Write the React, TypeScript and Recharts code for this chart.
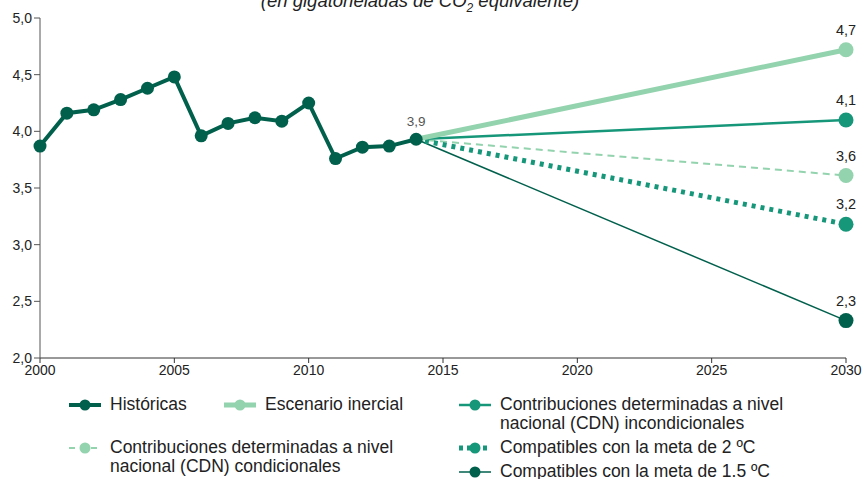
import { LineChart, Line, XAxis, YAxis } from 'recharts';

const histYears = [2000, 2001, 2002, 2003, 2004, 2005, 2006, 2007, 2008, 2009, 2010, 2011, 2012, 2013, 2014];
const histValues = [3.87, 4.16, 4.19, 4.28, 4.38, 4.48, 3.96, 4.07, 4.12, 4.09, 4.25, 3.76, 3.86, 3.87, 3.93];

const projYears = [2014, 2030];
const inercial = [3.93, 4.72];
const cdnIncond = [3.93, 4.1];
const cdnCond = [3.93, 3.61];
const meta2 = [3.93, 3.18];
const meta15 = [3.93, 2.33];

const xTicks = [2000, 2005, 2010, 2015, 2020, 2025, 2030];
const yTicks = [2.0, 2.5, 3.0, 3.5, 4.0, 4.5, 5.0];

const DARK = '#00604c';
const LIGHT = '#93d3ae';
const MID = '#17977a';

const data: Record<string, number>[] = histYears.map((year, i) => ({ year, hist: histValues[i] }));
const last = data[data.length - 1];
last.inercial = inercial[0];
last.cdnIncond = cdnIncond[0];
last.cdnCond = cdnCond[0];
last.meta2 = meta2[0];
last.meta15 = meta15[0];
data.push({
  year: projYears[1],
  inercial: inercial[1],
  cdnIncond: cdnIncond[1],
  cdnCond: cdnCond[1],
  meta2: meta2[1],
  meta15: meta15[1],
});

const fmt = (v: number) => v.toFixed(1).replace('.', ',');
const FONT = '"Liberation Sans", Arial, sans-serif';

function endDot(color: string) {
  return (props: any) => {
    const { cx, cy, payload } = props;
    if (payload.year !== 2030) return <g key={`d-${cx}`} />;
    return <circle key={`d-${cx}`} cx={cx} cy={cy} r={7.5} fill={color} />;
  };
}

function endLabel(props: any) {
  const { x, y, value, index } = props;
  if (index !== data.length - 1) return <g />;
  return (
    <text x={x} y={y - 15} textAnchor="middle" fontSize={14.5} fill="#222" fontFamily={FONT}>
      {fmt(value)}
    </text>
  );
}

function histLabel(props: any) {
  const { x, y, value, index } = props;
  if (index !== histYears.length - 1) return <g />;
  return (
    <text x={x} y={y - 13} textAnchor="middle" fontSize={13.5} fill="#555" fontFamily={FONT}>
      {fmt(value)}
    </text>
  );
}

function Icon({ color, width, dash }: { color: string; width: number; dash?: string }) {
  return (
    <svg width={34} height={16} style={{ position: 'absolute', left: -42, top: 2 }}>
      <line x1={1} y1={8} x2={33} y2={8} stroke={color} strokeWidth={width} strokeDasharray={dash} />
      <circle cx={17} cy={8} r={5.5} fill={color} />
    </svg>
  );
}

const legendItems = [
  { x: 110, y: 395, label: ['Históricas'], color: DARK, width: 4 },
  { x: 265, y: 395, label: ['Escenario inercial'], color: LIGHT, width: 5 },
  { x: 500, y: 395, label: ['Contribuciones determinadas a nivel', 'nacional (CDN) incondicionales'], color: MID, width: 2.5 },
  { x: 110, y: 438, label: ['Contribuciones determinadas a nivel', 'nacional (CDN) condicionales'], color: LIGHT, width: 2, dash: '6 5' },
  { x: 500, y: 438, label: ['Compatibles con la meta de 2 ºC'], color: MID, width: 5, dash: '4 4' },
  { x: 500, y: 462, label: ['Compatibles con la meta de 1.5 ºC'], color: DARK, width: 1.5 },
];

export default function App() {
  return (
    <div style={{ position: 'absolute', left: 0, top: 0, width: 864, height: 479, background: '#fff', overflow: 'hidden', fontFamily: FONT }}>
      <div style={{ position: 'absolute', left: 0, width: 840, top: -10, textAlign: 'center', fontSize: 18.5, fontStyle: 'italic', color: '#222' }}>
        (en gigatoneladas de CO<sub style={{ fontSize: 12 }}>2</sub> equivalente)
      </div>
      <LineChart width={864} height={479} data={data} margin={{ top: 18, right: 18, left: 0, bottom: 101 }}>
        <XAxis
          dataKey="year"
          type="number"
          domain={[2000, 2030]}
          ticks={xTicks}
          interval={0}
          tickSize={5}
          stroke="#333"
          tick={{ fill: '#222', fontSize: 14, fontFamily: FONT }}
          height={20}
        />
        <YAxis
          type="number"
          domain={[2, 5]}
          ticks={yTicks}
          interval={0}
          tickFormatter={fmt}
          tickSize={6}
          width={40}
          stroke="#555"
          tick={{ fill: '#222', fontSize: 14, fontFamily: FONT }}
        />
        <Line dataKey="cdnCond" stroke={LIGHT} strokeWidth={2} strokeDasharray="7 5" dot={endDot(LIGHT)} label={endLabel} isAnimationActive={false} connectNulls />
        <Line dataKey="meta15" stroke={DARK} strokeWidth={1.5} dot={endDot(DARK)} label={endLabel} isAnimationActive={false} connectNulls />
        <Line dataKey="meta2" stroke={MID} strokeWidth={5} strokeDasharray="4 5" dot={endDot(MID)} label={endLabel} isAnimationActive={false} connectNulls />
        <Line dataKey="cdnIncond" stroke={MID} strokeWidth={2.5} dot={endDot(MID)} label={endLabel} isAnimationActive={false} connectNulls />
        <Line dataKey="inercial" stroke={LIGHT} strokeWidth={5} dot={endDot(LIGHT)} label={endLabel} isAnimationActive={false} connectNulls />
        <Line dataKey="hist" stroke={DARK} strokeWidth={4} dot={{ r: 6.5, fill: DARK, stroke: DARK, strokeWidth: 0 }} label={histLabel} isAnimationActive={false} />
      </LineChart>
      {legendItems.map((item, i) => (
        <div key={i} style={{ position: 'absolute', left: item.x, top: item.y, fontSize: 17.5, lineHeight: '19px', color: '#222' }}>
          <Icon color={item.color} width={item.width} dash={item.dash} />
          {item.label.map((l, j) => (
            <div key={j}>{l}</div>
          ))}
        </div>
      ))}
    </div>
  );
}
